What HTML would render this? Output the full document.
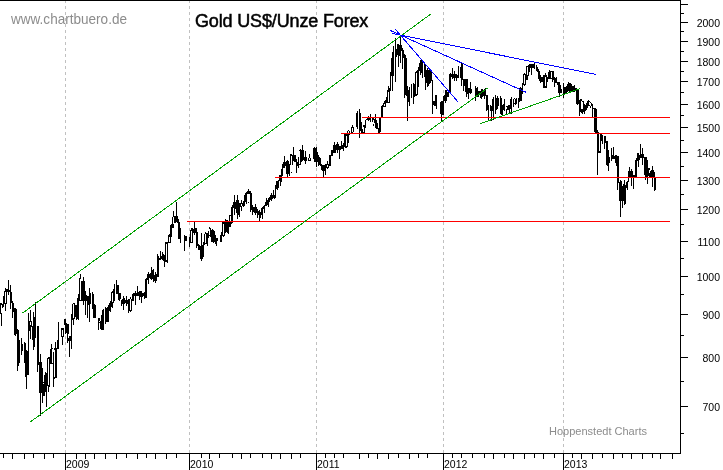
<!DOCTYPE html><html><head><meta charset="utf-8"><title>Gold US$/Unze Forex</title><style>html,body{margin:0;padding:0;background:#fff;}body{width:723px;height:470px;overflow:hidden;position:relative;}svg{position:absolute;left:0;top:0;display:block;}text{font-family:"Liberation Sans",Arial,Helvetica,sans-serif;filter:grayscale(1);}</style></head><body><svg width="723" height="470" viewBox="0 0 723 470" shape-rendering="crispEdges"><rect x="0" y="0" width="723" height="470" fill="#fff"/><path d="M65.5 0V453M189.5 0V453M316.5 0V453M443.5 0V453M563.5 0V453" stroke="#c0c0c0" stroke-width="1" stroke-dasharray="3 3" fill="none"/><text x="11" y="24" font-size="15" textLength="116" lengthAdjust="spacingAndGlyphs" fill="#8c8c8c">www.chartbuero.de</text><text x="195" y="27" font-size="18" letter-spacing="-0.15" fill="#000" stroke="#000" stroke-width="0.5">Gold US$/Unze Forex</text><text x="549" y="435" font-size="11" textLength="98" lengthAdjust="spacingAndGlyphs" fill="#8c8c8c">Hoppenstedt Charts</text><path d="M0 303h1V314h-1zM1 303h1V305h-1zM1 313h1V326h-1zM2 304h1V308h-1zM3 296h1V307h-1zM4 291h1V304h-1zM5 288h1V292h-1zM5 303h1V311h-1zM6 289h1V304h-1zM7 289h1V292h-1zM8 280h1V295h-1zM9 290h1V292h-1zM10 285h1V309h-1zM11 292h1V303h-1zM12 301h1V318h-1zM13 303h1V312h-1zM14 308h1V335h-1zM15 308h1V336h-1zM16 309h1V334h-1zM17 329h1V371h-1zM18 330h1V366h-1zM19 340h1V363h-1zM21 338h1V355h-1zM22 344h1V351h-1zM24 342h1V363h-1zM25 343h1V377h-1zM26 350h1V389h-1zM27 351h1V375h-1zM28 313h1V375h-1zM29 321h1V331h-1zM30 310h1V322h-1zM30 325h1V339h-1zM31 321h1V327h-1zM32 326h1V340h-1zM33 312h1V350h-1zM34 317h1V347h-1zM35 302h1V338h-1zM37 326h1V372h-1zM38 326h1V365h-1zM39 362h1V393h-1zM40 354h1V416h-1zM41 362h1V393h-1zM42 368h1V403h-1zM43 382h1V383h-1zM43 384h1V396h-1zM44 375h1V396h-1zM45 372h1V392h-1zM46 373h1V407h-1zM47 358h1V386h-1zM48 357h1V359h-1zM48 385h1V392h-1zM49 357h1V387h-1zM50 349h1V364h-1zM51 344h1V364h-1zM52 348h1V349h-1zM52 363h1V364h-1zM53 352h1V387h-1zM54 348h1V350h-1zM54 377h1V379h-1zM55 342h1V378h-1zM56 348h1V378h-1zM57 340h1V349h-1zM58 322h1V349h-1zM61 328h1V337h-1zM62 328h1V330h-1zM62 336h1V345h-1zM63 328h1V337h-1zM64 319h1V325h-1zM65 319h1V334h-1zM66 323h1V333h-1zM67 324h1V343h-1zM68 324h1V334h-1zM68 338h1V341h-1zM69 336h1V357h-1zM70 336h1V341h-1zM71 314h1V349h-1zM72 304h1V320h-1zM73 303h1V304h-1zM73 318h1V325h-1zM74 303h1V319h-1zM75 305h1V317h-1zM76 305h1V320h-1zM77 298h1V319h-1zM78 294h1V320h-1zM79 278h1V301h-1zM80 274h1V279h-1zM80 300h1V301h-1zM81 281h1V301h-1zM82 281h1V301h-1zM83 277h1V305h-1zM84 281h1V301h-1zM85 291h1V315h-1zM86 295h1V301h-1zM87 296h1V318h-1zM88 296h1V305h-1zM89 288h1V322h-1zM90 293h1V304h-1zM92 292h1V309h-1zM93 294h1V318h-1zM94 304h1V318h-1zM95 305h1V318h-1zM98 318h1V330h-1zM99 318h1V321h-1zM99 322h1V323h-1zM100 321h1V329h-1zM101 315h1V330h-1zM102 310h1V330h-1zM103 309h1V330h-1zM105 307h1V324h-1zM106 308h1V322h-1zM107 307h1V322h-1zM108 305h1V322h-1zM109 303h1V311h-1zM110 301h1V312h-1zM111 292h1V307h-1zM112 291h1V293h-1zM112 302h1V308h-1zM113 289h1V303h-1zM114 284h1V301h-1zM116 280h1V294h-1zM117 285h1V294h-1zM118 285h1V300h-1zM119 293h1V301h-1zM120 293h1V299h-1zM121 300h1V306h-1zM122 299h1V304h-1zM123 296h1V310h-1zM124 298h1V304h-1zM125 300h1V303h-1zM126 296h1V306h-1zM127 300h1V304h-1zM128 299h1V313h-1zM129 299h1V311h-1zM130 297h1V299h-1zM130 310h1V312h-1zM131 299h1V311h-1zM132 294h1V301h-1zM133 293h1V301h-1zM134 293h1V296h-1zM135 291h1V305h-1zM136 293h1V296h-1zM137 286h1V296h-1zM138 292h1V296h-1zM139 291h1V300h-1zM140 291h1V297h-1zM141 291h1V303h-1zM142 293h1V297h-1zM143 293h1V296h-1zM144 292h1V299h-1zM145 279h1V298h-1zM146 278h1V298h-1zM147 274h1V280h-1zM148 272h1V284h-1zM149 274h1V278h-1zM150 273h1V279h-1zM151 267h1V280h-1zM152 270h1V279h-1zM153 269h1V282h-1zM154 275h1V281h-1zM155 272h1V283h-1zM156 274h1V281h-1zM157 254h1V277h-1zM158 256h1V277h-1zM159 258h1V260h-1zM160 251h1V260h-1zM161 256h1V259h-1zM162 252h1V260h-1zM163 254h1V261h-1zM164 255h1V267h-1zM165 242h1V262h-1zM166 242h1V244h-1zM166 260h1V262h-1zM167 242h1V263h-1zM168 235h1V243h-1zM169 234h1V237h-1zM169 242h1V243h-1zM170 225h1V243h-1zM171 224h1V237h-1zM172 217h1V228h-1zM173 211h1V217h-1zM173 224h1V228h-1zM174 216h1V223h-1zM175 216h1V223h-1zM176 202h1V222h-1zM177 216h1V223h-1zM178 219h1V239h-1zM179 222h1V239h-1zM180 228h1V243h-1zM184 235h1V251h-1zM185 236h1V241h-1zM186 236h1V241h-1zM189 237h1V247h-1zM190 230h1V243h-1zM191 228h1V231h-1zM191 242h1V243h-1zM192 228h1V243h-1zM193 229h1V233h-1zM194 222h1V235h-1zM195 228h1V233h-1zM196 228h1V248h-1zM197 232h1V246h-1zM198 244h1V250h-1zM199 245h1V250h-1zM200 246h1V259h-1zM201 233h1V261h-1zM202 245h1V259h-1zM203 242h1V257h-1zM204 234h1V245h-1zM205 232h1V234h-1zM205 243h1V244h-1zM206 233h1V244h-1zM207 233h1V246h-1zM208 231h1V238h-1zM209 227h1V229h-1zM209 235h1V236h-1zM210 228h1V237h-1zM211 230h1V242h-1zM212 229h1V242h-1zM213 230h1V243h-1zM214 231h1V242h-1zM215 235h1V244h-1zM216 238h1V246h-1zM217 238h1V241h-1zM220 235h1V242h-1zM221 232h1V242h-1zM222 222h1V236h-1zM223 222h1V224h-1zM223 235h1V237h-1zM224 222h1V236h-1zM225 219h1V233h-1zM226 220h1V232h-1zM227 220h1V233h-1zM228 222h1V234h-1zM229 215h1V227h-1zM230 215h1V216h-1zM230 221h1V227h-1zM231 207h1V224h-1zM232 205h1V223h-1zM233 202h1V208h-1zM234 195h1V215h-1zM235 202h1V209h-1zM236 200h1V213h-1zM237 195h1V219h-1zM238 200h1V215h-1zM239 203h1V217h-1zM240 203h1V207h-1zM241 200h1V204h-1zM241 206h1V211h-1zM242 203h1V206h-1zM243 201h1V207h-1zM244 195h1V206h-1zM245 193h1V202h-1zM246 192h1V204h-1zM247 191h1V194h-1zM248 189h1V194h-1zM248 202h1V203h-1zM249 191h1V194h-1zM250 191h1V212h-1zM251 193h1V210h-1zM252 205h1V215h-1zM253 207h1V212h-1zM254 207h1V213h-1zM255 204h1V215h-1zM256 207h1V213h-1zM257 209h1V218h-1zM258 211h1V215h-1zM259 210h1V222h-1zM260 212h1V218h-1zM261 208h1V215h-1zM262 207h1V219h-1zM263 206h1V209h-1zM264 205h1V213h-1zM265 202h1V206h-1zM266 198h1V206h-1zM267 200h1V205h-1zM268 198h1V207h-1zM269 197h1V202h-1zM270 195h1V200h-1zM271 193h1V201h-1zM272 195h1V199h-1zM273 190h1V198h-1zM274 195h1V199h-1zM275 185h1V198h-1zM276 181h1V189h-1zM277 181h1V190h-1zM278 180h1V188h-1zM279 175h1V181h-1zM280 175h1V186h-1zM281 169h1V182h-1zM282 164h1V176h-1zM283 162h1V168h-1zM284 156h1V168h-1zM285 162h1V166h-1zM286 161h1V174h-1zM287 160h1V177h-1zM288 161h1V174h-1zM289 164h1V176h-1zM290 154h1V165h-1zM291 154h1V156h-1zM291 172h1V173h-1zM292 155h1V165h-1zM293 147h1V161h-1zM294 155h1V162h-1zM295 155h1V162h-1zM296 159h1V173h-1zM297 162h1V166h-1zM298 157h1V168h-1zM299 150h1V151h-1zM299 164h1V165h-1zM300 149h1V165h-1zM301 150h1V162h-1zM302 145h1V161h-1zM303 150h1V160h-1zM304 157h1V161h-1zM305 151h1V164h-1zM306 157h1V161h-1zM308 158h1V161h-1zM309 154h1V158h-1zM309 160h1V161h-1zM310 158h1V161h-1zM313 148h1V159h-1zM314 147h1V162h-1zM315 148h1V162h-1zM316 147h1V167h-1zM317 152h1V162h-1zM318 155h1V166h-1zM319 157h1V165h-1zM320 158h1V166h-1zM321 164h1V170h-1zM322 165h1V171h-1zM323 165h1V178h-1zM324 165h1V171h-1zM325 164h1V175h-1zM326 164h1V168h-1zM327 161h1V165h-1zM327 167h1V169h-1zM328 164h1V168h-1zM329 155h1V166h-1zM330 155h1V166h-1zM331 150h1V156h-1zM332 150h1V156h-1zM333 145h1V153h-1zM334 142h1V153h-1zM335 145h1V153h-1zM336 144h1V150h-1zM337 142h1V153h-1zM338 144h1V150h-1zM339 146h1V159h-1zM340 146h1V150h-1zM341 141h1V149h-1zM342 145h1V149h-1zM343 143h1V151h-1zM344 134h1V147h-1zM345 134h1V148h-1zM346 134h1V136h-1zM346 146h1V148h-1zM347 131h1V147h-1zM348 130h1V131h-1zM348 134h1V143h-1zM349 131h1V135h-1zM351 127h1V133h-1zM352 125h1V128h-1zM352 132h1V133h-1zM353 127h1V132h-1zM356 113h1V127h-1zM357 111h1V129h-1zM359 109h1V138h-1zM360 113h1V131h-1zM361 122h1V133h-1zM362 129h1V133h-1zM363 125h1V127h-1zM363 132h1V134h-1zM364 125h1V134h-1zM365 120h1V128h-1zM366 119h1V120h-1zM367 118h1V120h-1zM368 116h1V121h-1zM369 117h1V120h-1zM370 114h1V122h-1zM372 118h1V122h-1zM373 118h1V120h-1zM373 124h1V126h-1zM374 119h1V123h-1zM375 114h1V128h-1zM376 120h1V129h-1zM377 123h1V129h-1zM378 128h1V133h-1zM379 118h1V133h-1zM380 118h1V132h-1zM381 106h1V118h-1zM382 105h1V118h-1zM383 103h1V107h-1zM384 101h1V104h-1zM384 106h1V107h-1zM385 100h1V107h-1zM386 97h1V103h-1zM387 90h1V103h-1zM388 86h1V92h-1zM388 102h1V103h-1zM389 88h1V103h-1zM390 72h1V91h-1zM391 58h1V76h-1zM392 52h1V91h-1zM393 46h1V76h-1zM395 38h1V82h-1zM396 49h1V57h-1zM397 44h1V55h-1zM398 44h1V67h-1zM399 45h1V56h-1zM400 36h1V63h-1zM401 45h1V51h-1zM402 48h1V69h-1zM403 50h1V58h-1zM404 54h1V98h-1zM405 55h1V95h-1zM406 58h1V96h-1zM407 86h1V121h-1zM408 90h1V102h-1zM409 87h1V106h-1zM411 84h1V98h-1zM413 83h1V104h-1zM414 84h1V97h-1zM415 72h1V96h-1zM416 71h1V73h-1zM416 94h1V96h-1zM417 70h1V95h-1zM418 67h1V87h-1zM419 63h1V71h-1zM420 60h1V75h-1zM421 60h1V73h-1zM422 62h1V78h-1zM424 63h1V77h-1zM425 65h1V90h-1zM426 70h1V83h-1zM427 68h1V87h-1zM428 70h1V86h-1zM429 70h1V84h-1zM430 71h1V83h-1zM431 72h1V81h-1zM432 80h1V114h-1zM433 101h1V105h-1zM434 101h1V106h-1zM435 95h1V106h-1zM436 95h1V109h-1zM440 102h1V114h-1zM441 101h1V122h-1zM442 101h1V115h-1zM443 96h1V115h-1zM444 95h1V101h-1zM445 90h1V103h-1zM446 90h1V101h-1zM447 92h1V97h-1zM448 90h1V97h-1zM449 74h1V93h-1zM450 73h1V94h-1zM451 74h1V77h-1zM452 68h1V79h-1zM453 74h1V78h-1zM454 71h1V81h-1zM455 74h1V78h-1zM456 74h1V81h-1zM457 75h1V78h-1zM458 66h1V78h-1zM460 67h1V78h-1zM461 63h1V86h-1zM462 63h1V80h-1zM463 79h1V91h-1zM464 79h1V86h-1zM465 79h1V92h-1zM466 79h1V97h-1zM467 79h1V94h-1zM468 88h1V99h-1zM469 88h1V93h-1zM470 82h1V94h-1zM471 89h1V93h-1zM475 86h1V101h-1zM476 88h1V97h-1zM477 87h1V97h-1zM478 91h1V97h-1zM479 91h1V95h-1zM480 91h1V98h-1zM481 89h1V99h-1zM482 89h1V97h-1zM483 91h1V96h-1zM484 89h1V99h-1zM485 88h1V96h-1zM486 95h1V111h-1zM487 95h1V110h-1zM488 105h1V121h-1zM490 105h1V111h-1zM491 106h1V121h-1zM492 99h1V111h-1zM493 97h1V120h-1zM495 95h1V114h-1zM496 98h1V110h-1zM497 96h1V109h-1zM498 98h1V106h-1zM500 96h1V114h-1zM501 98h1V115h-1zM502 105h1V116h-1zM503 104h1V110h-1zM504 99h1V111h-1zM506 106h1V107h-1zM506 109h1V115h-1zM507 106h1V110h-1zM508 105h1V110h-1zM509 105h1V113h-1zM510 99h1V109h-1zM511 97h1V114h-1zM513 99h1V107h-1zM514 98h1V99h-1zM514 103h1V104h-1zM515 99h1V105h-1zM516 98h1V104h-1zM518 98h1V108h-1zM519 88h1V102h-1zM520 87h1V101h-1zM521 88h1V101h-1zM522 83h1V94h-1zM523 74h1V85h-1zM524 73h1V75h-1zM524 84h1V86h-1zM525 74h1V85h-1zM526 66h1V80h-1zM527 66h1V67h-1zM527 75h1V80h-1zM528 65h1V76h-1zM529 64h1V72h-1zM530 64h1V68h-1zM531 64h1V75h-1zM532 64h1V68h-1zM533 64h1V68h-1zM534 63h1V69h-1zM536 65h1V71h-1zM537 67h1V72h-1zM538 69h1V79h-1zM539 71h1V81h-1zM540 75h1V83h-1zM541 77h1V82h-1zM542 77h1V82h-1zM543 75h1V88h-1zM544 75h1V88h-1zM545 73h1V77h-1zM545 86h1V88h-1zM546 75h1V88h-1zM547 77h1V82h-1zM548 72h1V79h-1zM549 70h1V79h-1zM550 71h1V79h-1zM551 71h1V72h-1zM551 78h1V79h-1zM552 71h1V82h-1zM553 71h1V80h-1zM554 77h1V87h-1zM555 78h1V83h-1zM556 77h1V83h-1zM557 82h1V85h-1zM558 82h1V93h-1zM559 82h1V97h-1zM560 85h1V93h-1zM561 89h1V93h-1zM563 83h1V98h-1zM564 87h1V95h-1zM565 87h1V93h-1zM566 86h1V93h-1zM567 84h1V92h-1zM568 82h1V91h-1zM569 83h1V92h-1zM570 83h1V92h-1zM571 84h1V92h-1zM572 86h1V92h-1zM573 86h1V92h-1zM574 85h1V92h-1zM575 88h1V91h-1zM576 88h1V104h-1zM577 89h1V105h-1zM578 90h1V104h-1zM579 100h1V116h-1zM580 99h1V112h-1zM581 99h1V101h-1zM581 109h1V113h-1zM582 101h1V102h-1zM582 109h1V114h-1zM583 101h1V112h-1zM584 104h1V114h-1zM585 105h1V111h-1zM586 103h1V110h-1zM587 101h1V108h-1zM588 100h1V106h-1zM589 101h1V102h-1zM589 105h1V106h-1zM590 102h1V103h-1zM590 106h1V108h-1zM591 103h1V106h-1zM592 104h1V118h-1zM593 108h1V109h-1zM594 108h1V132h-1zM595 108h1V133h-1zM596 109h1V133h-1zM597 130h1V175h-1zM598 132h1V153h-1zM599 133h1V134h-1zM599 151h1V153h-1zM600 133h1V153h-1zM601 133h1V141h-1zM602 135h1V144h-1zM604 136h1V149h-1zM605 136h1V143h-1zM606 141h1V165h-1zM607 141h1V166h-1zM608 150h1V171h-1zM609 157h1V163h-1zM611 148h1V161h-1zM612 155h1V159h-1zM613 147h1V159h-1zM614 156h1V159h-1zM615 155h1V163h-1zM616 155h1V166h-1zM617 156h1V190h-1zM618 156h1V183h-1zM619 182h1V201h-1zM620 180h1V217h-1zM621 181h1V201h-1zM622 186h1V208h-1zM623 184h1V201h-1zM624 180h1V205h-1zM625 185h1V204h-1zM626 182h1V188h-1zM627 181h1V190h-1zM628 171h1V182h-1zM629 167h1V177h-1zM630 171h1V178h-1zM631 169h1V186h-1zM632 171h1V178h-1zM633 175h1V189h-1zM634 175h1V178h-1zM635 160h1V178h-1zM636 158h1V178h-1zM637 153h1V161h-1zM638 153h1V167h-1zM639 155h1V160h-1zM640 144h1V158h-1zM641 154h1V158h-1zM642 148h1V165h-1zM643 154h1V158h-1zM644 157h1V175h-1zM645 157h1V180h-1zM646 157h1V177h-1zM647 160h1V184h-1zM648 168h1V176h-1zM649 168h1V170h-1zM649 173h1V178h-1zM650 171h1V178h-1zM651 170h1V178h-1zM652 166h1V187h-1zM653 170h1V178h-1zM654 172h1V191h-1zM655 178h1V190h-1z" fill="#000"/><rect x="362" y="117" width="308" height="1" fill="#f00"/><rect x="341" y="133" width="329" height="1" fill="#f00"/><rect x="275" y="177" width="395" height="1" fill="#f00"/><rect x="187" y="221" width="483" height="1" fill="#f00"/><line x1="22.5" y1="313.1" x2="431.5" y2="13.5" stroke="#00a000" stroke-width="1"/><line x1="30.5" y1="421.8" x2="487.5" y2="88.1" stroke="#00a000" stroke-width="1"/><line x1="480.5" y1="123.5" x2="580.5" y2="88.5" stroke="#00a000" stroke-width="1"/><line x1="395.5" y1="29.5" x2="458.5" y2="102.5" stroke="#0000ff" stroke-width="1"/><line x1="390.5" y1="30.5" x2="526.5" y2="92.5" stroke="#0000ff" stroke-width="1"/><line x1="392.5" y1="33.5" x2="596.5" y2="74.5" stroke="#0000ff" stroke-width="1"/><rect x="0" y="0" width="681" height="1" fill="#000"/><rect x="680" y="0" width="1" height="454" fill="#000"/><rect x="0" y="453" width="681" height="1" fill="#000"/><path d="M3 454h1v4h-1zM12 454h1v5h-1zM24 454h1v5h-1zM33 454h1v4h-1zM44 454h1v5h-1zM53 454h1v4h-1zM76 454h1v5h-1zM85 454h1v5h-1zM94 454h1v5h-1zM105 454h1v5h-1zM116 454h1v5h-1zM126 454h1v4h-1zM137 454h1v5h-1zM146 454h1v4h-1zM155 454h1v5h-1zM166 454h1v5h-1zM176 454h1v4h-1zM201 454h1v4h-1zM209 454h1v5h-1zM219 454h1v4h-1zM232 454h1v4h-1zM241 454h1v5h-1zM250 454h1v4h-1zM262 454h1v4h-1zM271 454h1v5h-1zM280 454h1v5h-1zM291 454h1v5h-1zM300 454h1v4h-1zM325 454h1v4h-1zM334 454h1v4h-1zM343 454h1v4h-1zM359 454h1v5h-1zM368 454h1v4h-1zM377 454h1v5h-1zM388 454h1v5h-1zM398 454h1v4h-1zM409 454h1v5h-1zM418 454h1v4h-1zM427 454h1v4h-1zM452 454h1v4h-1zM461 454h1v4h-1zM472 454h1v4h-1zM484 454h1v4h-1zM493 454h1v5h-1zM504 454h1v4h-1zM513 454h1v5h-1zM524 454h1v5h-1zM534 454h1v4h-1zM543 454h1v5h-1zM554 454h1v4h-1zM572 454h1v4h-1zM581 454h1v5h-1zM592 454h1v5h-1zM602 454h1v4h-1zM613 454h1v5h-1zM622 454h1v4h-1zM631 454h1v5h-1zM642 454h1v5h-1zM652 454h1v4h-1zM660 454h1v5h-1zM672 454h1v5h-1zM65 454h1v16h-1zM189 454h1v16h-1zM316 454h1v16h-1zM443 454h1v16h-1zM563 454h1v16h-1z" fill="#000"/><text x="66" y="468" font-size="10.5" fill="#000">2009</text><text x="190" y="468" font-size="10.5" fill="#000">2010</text><text x="317" y="468" font-size="10.5" fill="#000">2011</text><text x="444" y="468" font-size="10.5" fill="#000">2012</text><text x="564" y="468" font-size="10.5" fill="#000">2013</text><text x="720" y="411" font-size="10.5" text-anchor="end" fill="#000">700</text><text x="720" y="362" font-size="10.5" text-anchor="end" fill="#000">800</text><text x="720" y="319" font-size="10.5" text-anchor="end" fill="#000">900</text><text x="720" y="281" font-size="10.5" text-anchor="end" fill="#000">1000</text><text x="720" y="246" font-size="10.5" text-anchor="end" fill="#000">1100</text><text x="720" y="214" font-size="10.5" text-anchor="end" fill="#000">1200</text><text x="720" y="185" font-size="10.5" text-anchor="end" fill="#000">1300</text><text x="720" y="157" font-size="10.5" text-anchor="end" fill="#000">1400</text><text x="720" y="132" font-size="10.5" text-anchor="end" fill="#000">1500</text><text x="720" y="109" font-size="10.5" text-anchor="end" fill="#000">1600</text><text x="720" y="86" font-size="10.5" text-anchor="end" fill="#000">1700</text><text x="720" y="66" font-size="10.5" text-anchor="end" fill="#000">1800</text><text x="720" y="46" font-size="10.5" text-anchor="end" fill="#000">1900</text><text x="720" y="27" font-size="10.5" text-anchor="end" fill="#000">2000</text><path d="M681 433h3v1h-3zM681 406h7v1h-7zM681 381h3v1h-3zM681 357h7v1h-7zM681 335h3v1h-3zM681 314h7v1h-7zM681 294h3v1h-3zM681 276h7v1h-7zM681 258h3v1h-3zM681 241h7v1h-7zM681 224h3v1h-3zM681 209h7v1h-7zM681 194h3v1h-3zM681 180h7v1h-7zM681 166h3v1h-3zM681 152h7v1h-7zM681 140h3v1h-3zM681 127h7v1h-7zM681 115h3v1h-3zM681 104h7v1h-7zM681 92h3v1h-3zM681 81h7v1h-7zM681 71h3v1h-3zM681 61h7v1h-7zM681 51h3v1h-3zM681 41h7v1h-7zM681 31h3v1h-3zM681 22h7v1h-7zM681 13h3v1h-3zM681 4h7v1h-7z" fill="#000"/></svg></body></html>
